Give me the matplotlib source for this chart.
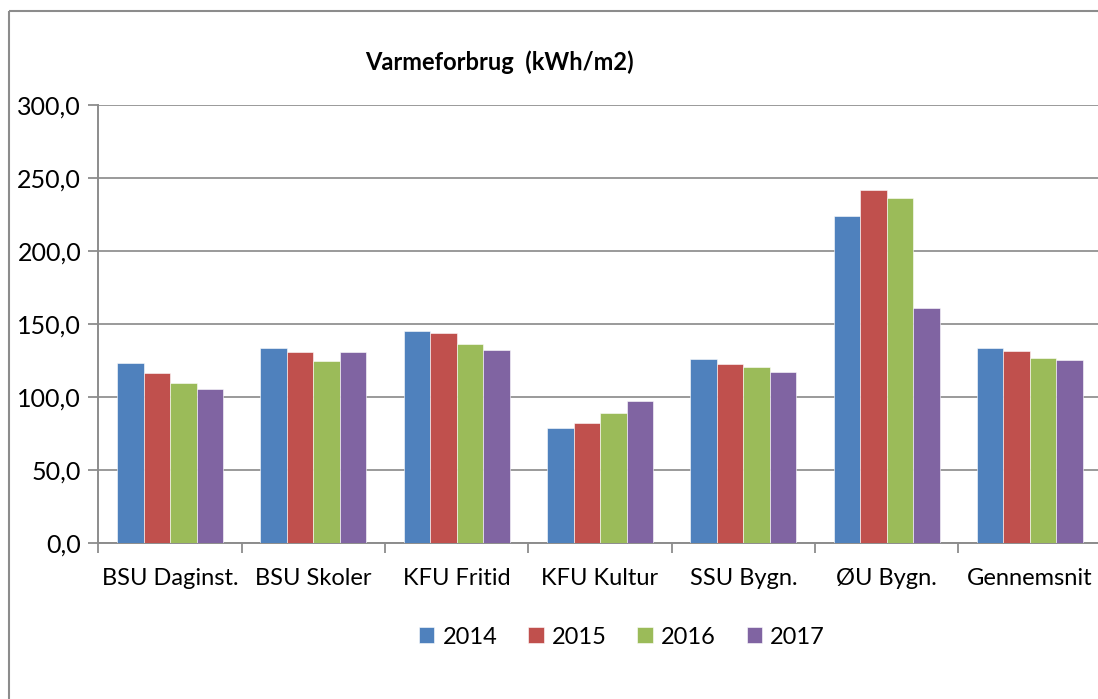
import numpy as np
import matplotlib
matplotlib.use("Agg")
import matplotlib.pyplot as plt
from matplotlib.lines import Line2D
from matplotlib.ticker import FuncFormatter

# data
categories = ["BSU Daginst.", "BSU Skoler", "KFU Fritid", "KFU Kultur", "SSU Bygn.", "ØU Bygn.", "Gennemsnit"]
years = ["2014", "2015", "2016", "2017"]
v2014 = [123.1, 133.6, 145.2, 78.4, 126.2, 224.1, 133.2]
v2015 = [116.0, 130.6, 143.6, 82.1, 122.7, 241.4, 131.2]
v2016 = [109.2, 124.5, 135.9, 88.7, 120.4, 236.6, 126.4]
v2017 = [105.1, 130.4, 131.8, 97.1, 116.8, 160.6, 125.5]
colors = ["#4F81BD", "#C0504D", "#9BBB59", "#8064A2"]

plt.rcParams['font.family'] = ['Lato', 'DejaVu Sans']

fig = plt.figure(figsize=(10.98, 6.99), dpi=100)
W, H = 1098, 699

# outer chart border (only top and left edges are inside the picture)
fig.add_artist(Line2D([9 / W, 1.0], [1 - 11 / H, 1 - 11 / H], transform=fig.transFigure,
                      color="#8c8c8c", linewidth=1.5, solid_capstyle="butt"))
fig.add_artist(Line2D([9 / W, 9 / W], [0.0, 1 - 11 / H], transform=fig.transFigure,
                      color="#8c8c8c", linewidth=1.5, solid_capstyle="butt"))

# plot area runs a little past the right edge of the picture,
# so the axes stop at the edge and the x limit is cut to match
left, right = 98.5, 1098.0
cat_px = 143.3
top, bottom = 105, 542.7
ax = fig.add_axes([left / W, 1 - bottom / H, (right - left) / W, (bottom - top) / H])

x = np.arange(len(categories))
bw = 0.185
series = [v2014, v2015, v2016, v2017]
for i, vals in enumerate(series):
    ax.bar(x + (i - 1.5) * bw, vals, bw, color=colors[i], label=years[i],
           edgecolor="white", linewidth=0.4, zorder=3)

ax.set_xlim(-0.5, -0.5 + (right - left) / cat_px)
ax.set_ylim(0, 300)
ax.set_yticks(np.arange(0, 301, 50))
ax.yaxis.set_major_formatter(FuncFormatter(lambda v, p: f"{v:.1f}".replace(".", ",")))
ax.grid(axis="y", color="#9a9a9a", linewidth=1.4, zorder=0)
ax.set_axisbelow(True)

ax.set_xticks(x)
ax.set_xticklabels(categories)
ax.set_xticks(np.arange(-0.5, len(categories) - 1), minor=True)
ax.tick_params(axis="x", which="major", length=0, pad=18, labelsize=17)
ax.tick_params(axis="x", which="minor", length=7, width=1.3, color="#8c8c8c")
ax.tick_params(axis="y", length=7.5, width=1.3, color="#8c8c8c", labelsize=18, pad=5)

for s in ["top", "right"]:
    ax.spines[s].set_visible(False)
for s in ["left", "bottom"]:
    ax.spines[s].set_color("#8c8c8c")
    ax.spines[s].set_linewidth(1.4)

fig.text(499.5 / W, 1 - 62 / H, "Varmeforbrug  (kWh/m2)", ha="center", va="center",
         fontsize=17, fontweight="bold")

fig.legend(loc="center", bbox_to_anchor=(622 / W, 1 - 637 / H), ncol=4, frameon=False,
           fontsize=17, handlelength=0.65, handleheight=0.65, handletextpad=0.35,
           columnspacing=1.3)

fig.savefig("out.png", dpi=100, facecolor="white")
